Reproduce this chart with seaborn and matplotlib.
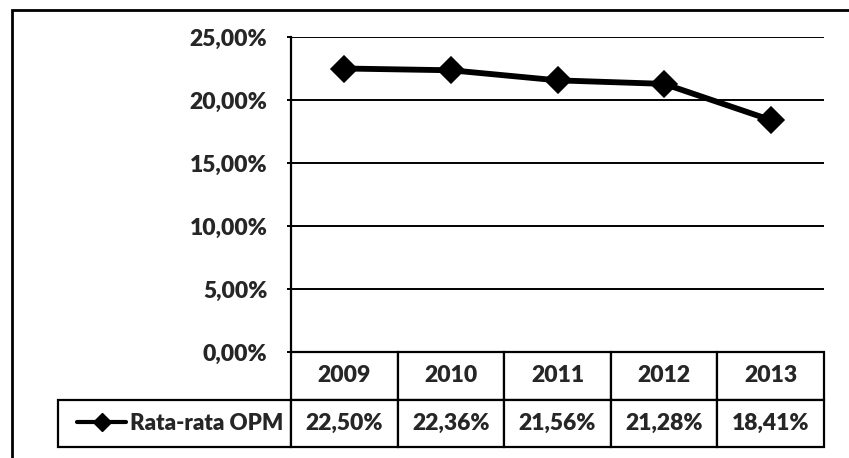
import numpy as np
import pandas as pd
import seaborn as sns
from matplotlib import pyplot as plt
from matplotlib.lines import Line2D
from matplotlib.patches import Rectangle
from matplotlib.ticker import FuncFormatter

years = ['2009', '2010', '2011', '2012', '2013']
opm = [22.50, 22.36, 21.56, 21.28, 18.41]
series_name = 'Rata-rata OPM'
y_ticks = [0, 5, 10, 15, 20, 25]


def pct(v):
    return f'{v:.2f}%'.replace('.', ',')


sns.set_theme(style='white')
plt.rcParams['font.family'] = ['Lato', 'DejaVu Sans']
plt.rcParams['font.weight'] = 'heavy'

fig = plt.figure(figsize=(8.49, 4.58), dpi=100)
ax = fig.add_axes([291 / 849, 1 - 352 / 458, 533 / 849, 315 / 458])

df = pd.DataFrame({'year': years, 'opm': opm})
sns.pointplot(data=df, x='year', y='opm', color='black', markers='D',
              markersize=11, linewidth=4.2, ax=ax)

ax.set_ylim(0, 25)
ax.set_yticks(y_ticks)
ax.yaxis.set_major_formatter(FuncFormatter(lambda v, p: pct(v)))
ax.yaxis.grid(True, color='black', lw=1.4)
ax.set_axisbelow(True)
ax.set_xlabel('')
ax.set_ylabel('')
ax.tick_params(axis='x', bottom=False, labelbottom=False)
ax.tick_params(axis='y', left=True, length=3, width=1.4, color='black',
               labelsize=16.5, pad=14)
for lab in ax.get_yticklabels():
    lab.set_fontweight('heavy')
for side in ['top', 'right', 'bottom']:
    ax.spines[side].set_visible(False)
ax.spines['left'].set_color('black')
ax.spines['left'].set_linewidth(1.6)

# data table under the plot
cell_text = [[''] + years, [''] + [pct(v) for v in opm]]
widths = np.array([233] + [106.6] * 5)
tbl = ax.table(cellText=cell_text, colWidths=list(widths / widths.sum()),
               cellLoc='center', bbox=[-0.437, -0.3016, 1.437, 0.3016])
tbl.auto_set_font_size(False)
tbl.set_fontsize(16.5)
for (r, c), cell in tbl.get_celld().items():
    cell.set_linewidth(1.6)
    cell.set_edgecolor('black')
    cell.get_text().set_fontweight('heavy')
    if r == 0 and c == 0:
        cell.visible_edges = ''

handle = Line2D([], [], color='black', marker='D', markersize=9, lw=3)
ax.legend([handle], [series_name], loc='center right',
          bbox_to_anchor=(-0.015, -0.226), frameon=False, handlelength=2.2,
          handletextpad=0.15, borderpad=0, borderaxespad=0,
          prop={'weight': 'heavy', 'size': 16})

fig.patches.append(Rectangle((12 / 849, -0.1), 1.1, 1 - 10 / 458 + 0.1,
                             transform=fig.transFigure, fill=False,
                             lw=2, ec='black'))

fig.savefig('out.png', dpi=100)
